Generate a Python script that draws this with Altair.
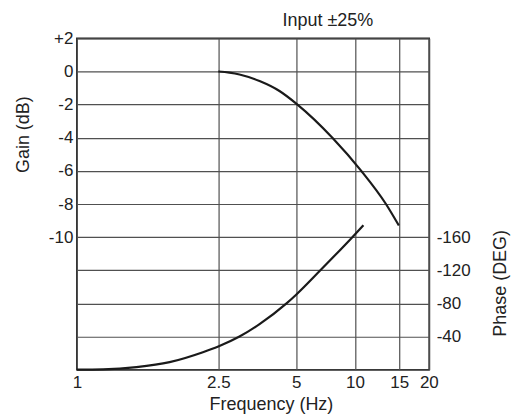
import altair as alt
import pandas as pd

# Gain curve (dB) vs frequency (Hz)
gain_freq = [2.5, 2.76, 3.02, 3.61, 4.31, 5.08, 7.66, 10.59, 13.28, 14.95]
gain_db = [0, -0.07, -0.18, -0.58, -1.18, -2.0, -4.0, -6.0, -8.0, -9.3]

# Phase curve (deg) vs frequency (Hz)
phase_freq = [1.0, 1.185, 1.471, 1.824, 2.263, 2.5, 3.02, 3.61, 4.59, 5.0, 6.65, 9.69, 10.8]
phase_deg = [0, -0.4, -3.1, -9.1, -21.1, -28, -40, -55, -80, -90.5, -120, -160, -174.4]

freq_ticks = [1, 2.5, 5, 10, 15, 20]
gain_ticks = [2, 0, -2, -4, -6, -8, -10, -12, -14, -16, -18]
phase_ticks = [-160, -120, -80, -40]

gain_df = pd.DataFrame({"freq": gain_freq, "gain": gain_db})
phase_df = pd.DataFrame({"freq": phase_freq, "phase": phase_deg})

FONT = "Liberation Sans"
W, H = 353, 332

x_scale = alt.Scale(type="log", domain=freq_ticks,
                    range=[0, 141.7, 219.7, 278.7, 323, 352.7], nice=False)
x_axis = alt.Axis(values=freq_ticks, title="Frequency (Hz)", grid=True,
                  labelExpr="'' + datum.value", labelPadding=5,
                  labelFlush=False, labelOverlap=False,
                  titleX=194.5, titleY=40, titleBaseline="alphabetic",
                  titleAnchor="start", titleAlign="center")

gain = alt.Chart(gain_df).mark_line(color="#1a1a1a", strokeWidth=2.2,
                                    interpolate="monotone").encode(
    x=alt.X("freq:Q", scale=x_scale, axis=x_axis),
    y=alt.Y("gain:Q", scale=alt.Scale(domain=[-18, 2], nice=False, zero=False),
            axis=alt.Axis(values=gain_ticks, grid=True, title="Gain (dB)",
                          labelExpr="datum.value > 0 ? '+' + datum.value : (datum.value < -10 ? '' : '' + datum.value)",
                          labelPadding=4, labelFlush=False, labelOverlap=False,
                          titleAngle=270, titleBaseline="middle",
                          titleAlign="center", titleX=-53, titleY=96)),
)

phase = alt.Chart(phase_df).mark_line(color="#1a1a1a", strokeWidth=2.2,
                                      interpolate="monotone").encode(
    x=alt.X("freq:Q", scale=x_scale, axis=x_axis),
    y=alt.Y("phase:Q", scale=alt.Scale(domain=[0, -400], nice=False, zero=False),
            axis=alt.Axis(values=phase_ticks, grid=False, orient="right",
                          title="Phase (DEG)", labelExpr="'' + datum.value",
                          labelPadding=7, labelFlush=False, labelOverlap=False,
                          titleAngle=270, titleBaseline="middle",
                          titleAlign="center", titleX=71, titleY=245)),
)

chart = alt.layer(gain, phase).resolve_scale(y="independent").properties(
    width=W, height=H,
    background="white",
    autosize=alt.AutoSizeParams(type="none"),
    padding={"left": 69, "top": 30, "right": 82, "bottom": 45},
    title=alt.TitleParams("Input ±25%", font=FONT, fontSize=18, fontWeight="normal",
                          color="#222222", anchor="middle", frame="group",
                          dx=75, dy=19, offset=0, baseline="bottom"),
).configure_view(
    stroke="#222222", strokeWidth=1.6
).configure_axis(
    domain=False, ticks=False, tickSize=0,
    labelFont=FONT, labelFontSize=17, labelColor="#222222",
    titleFont=FONT, titleFontSize=18, titleFontWeight="normal", titleColor="#222222",
    gridColor="#505050", gridWidth=1.2, gridOpacity=1,
)

chart.save("out.html", embed_options={"renderer": "svg", "actions": False})
